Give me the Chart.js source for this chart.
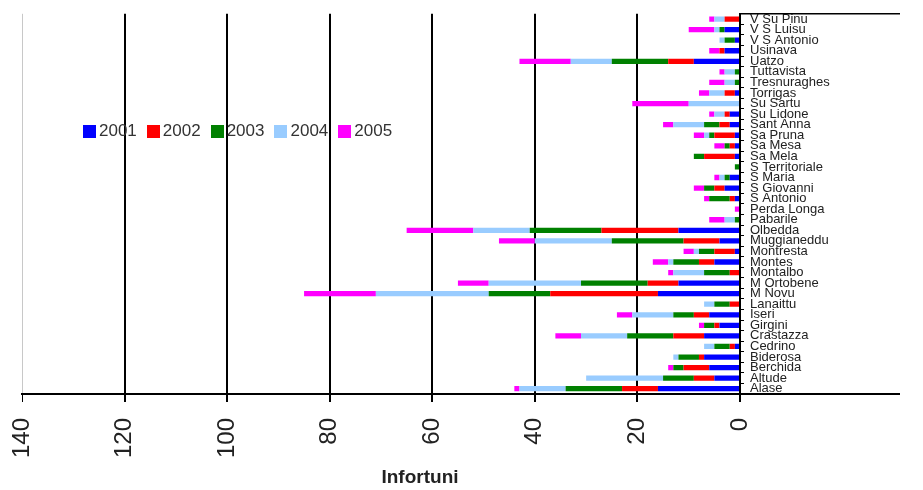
<!DOCTYPE html>
<html>
<head>
<meta charset="utf-8">
<script src="https://cdn.jsdelivr.net/npm/chart.js@4/dist/chart.umd.min.js"></script>
<style>
  body { margin: 0; background: #fff; }
  #wrap { position: relative; width: 923px; height: 490px; }
  #legend { position: absolute; left: 83px; top: 121px; display: flex; font: 17px 'Liberation Sans', Arial, sans-serif; color: #333; }
  #legend .item { display: flex; align-items: center; margin-right: 10px; }
  #legend .box { width: 13px; height: 13px; margin-right: 3px; }
</style>
</head>
<body>
<div id="wrap">
  <canvas id="chart"></canvas>
  <div id="legend"></div>
</div>
<script>
// categories, top to bottom
const sites = ['V Su Pinu','V S Luisu','V S Antonio','Usinava','Uatzo','Tuttavista','Tresnuraghes','Torrigas',
  'Su Sartu','Su Lidone','Sant Anna','Sa Pruna','Sa Mesa','Sa Mela','S Territoriale','S Maria','S Giovanni',
  'S Antonio','Perda Longa','Pabarile','Olbedda','Muggianeddu','Montresta','Montes','Montalbo','M Ortobene',
  'M Novu','Lanaittu','Iseri','Girgini','Crastazza','Cedrino','Biderosa','Berchida','Altude','Alase'];

const years = ['2001','2002','2003','2004','2005'];
const yearColors = ['#0000ff','#ff0000','#008000','#99ccff','#ff00ff'];

const y2001 = [0,3,1,3,9,0,0,1,0,2,2,1,1,1,0,2,3,1,0,0,12,4,1,5,0,12,16,0,6,4,7,1,7,6,5,16];
const y2002 = [3,0,0,1,5,0,0,2,0,1,2,4,1,6,0,0,2,1,0,0,15,7,4,3,2,6,21,2,3,1,6,1,1,5,4,7];
const y2003 = [0,1,2,0,11,1,1,0,0,0,3,1,1,2,1,1,2,4,0,1,14,14,3,5,5,13,12,3,4,2,9,3,4,2,6,11];
const y2004 = [2,1,1,0,8,2,2,3,10,2,6,1,0,0,0,1,0,0,0,2,11,15,1,1,6,18,22,2,8,0,9,2,1,0,15,9];
const y2005 = [1,5,0,2,10,1,3,2,11,1,2,2,2,0,0,1,2,1,1,3,13,7,2,3,1,6,14,0,3,1,5,0,0,1,0,1];

const xTicks = [0,20,40,60,80,100,120,140];
const axisTitle = 'Infortuni';

const series = [y2001, y2002, y2003, y2004, y2005];

// axis lines that run past the zero line, plus the axis title
const extras = {
  id: 'extras',
  afterDraw(chart) {
    const { ctx, chartArea } = chart;
    const yScale = chart.scales.y;
    ctx.save();
    ctx.strokeStyle = '#000';
    ctx.lineWidth = 2;
    ctx.beginPath();
    ctx.moveTo(chartArea.right, chartArea.bottom);
    ctx.lineTo(yScale.right, chartArea.bottom);
    ctx.stroke();
    ctx.lineWidth = 1.5;
    ctx.beginPath();
    ctx.moveTo(chartArea.right, chartArea.top);
    ctx.lineTo(yScale.right, chartArea.top);
    ctx.stroke();
    ctx.fillStyle = '#222';
    ctx.font = "bold 19px 'Liberation Sans', Arial, sans-serif";
    ctx.textAlign = 'center';
    ctx.textBaseline = 'alphabetic';
    ctx.fillText(axisTitle, 420, 483);
    ctx.restore();
  }
};

const chart = new Chart(document.getElementById('chart'), {
  type: 'bar',
  data: {
    labels: sites,
    datasets: years.map((y, i) => ({
      label: y, data: series[i], backgroundColor: yearColors[i],
      barPercentage: 0.5, categoryPercentage: 1, borderWidth: 0
    }))
  },
  options: {
    indexAxis: 'y',
    responsive: true, maintainAspectRatio: false, animation: false,
    layout: { padding: { left: 22, right: 23, top: 4, bottom: 0 } },
    plugins: { legend: { display: false }, tooltip: { enabled: false } },
    scales: {
      x: {
        stacked: true, reverse: true, min: 0, max: 140,
        afterBuildTicks: s => { s.ticks = xTicks.map(v => ({ value: v })); },
        afterFit: s => { s.height = 96; },
        ticks: { maxRotation: 90, minRotation: 90, padding: 16, color: '#222',
                 font: { family: "'Liberation Sans', Arial, sans-serif", size: 24 } },
        grid: {
          color: c => c.tick.value === 140 ? '#c8c8c8' : '#000',
          lineWidth: c => c.tick.value === 140 ? 1 : 2,
          tickColor: '#000', tickLength: 8
        },
        border: { color: '#000', width: 2 }
      },
      y: {
        stacked: true, position: 'right',
        afterFit: s => { s.width = 160; },
        ticks: { autoSkip: false, padding: 6, color: '#222',
                 font: { family: "'Liberation Sans Narrow', 'Liberation Sans', Arial, sans-serif", size: 13 } },
        grid: { drawOnChartArea: false, color: '#000', tickLength: 4 },
        border: { color: '#000', width: 2 }
      }
    }
  },
  plugins: [extras]
});

const legendEl = document.getElementById('legend');
chart.data.datasets.forEach(ds => {
  const item = document.createElement('div');
  item.className = 'item';
  item.innerHTML = '<span class="box" style="background:' + ds.backgroundColor + '"></span><span>' + ds.label + '</span>';
  legendEl.appendChild(item);
});
</script>
</body>
</html>
